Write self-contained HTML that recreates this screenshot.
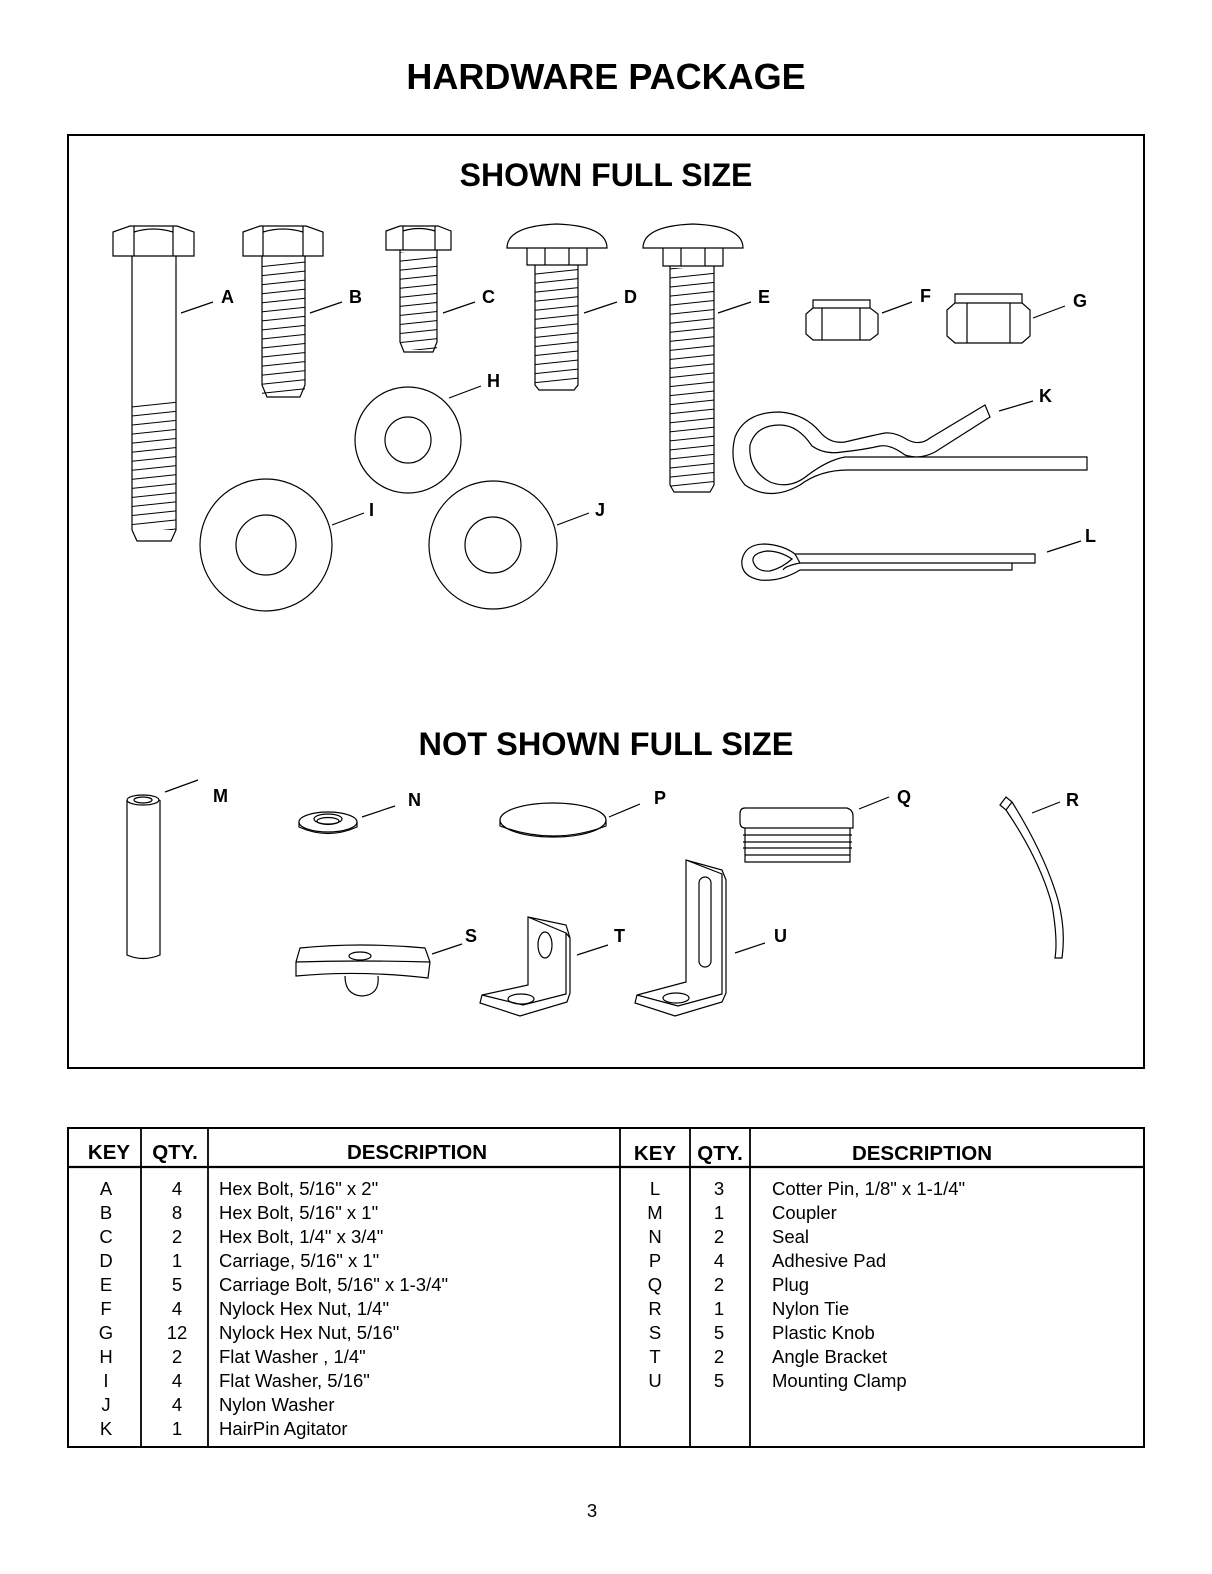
<!DOCTYPE html>
<html><head><meta charset="utf-8"><style>
body{margin:0;background:#fff}
svg{display:block}
.t{font-family:"Liberation Sans",Arial,sans-serif}
</style></head><body>
<svg width="1212" height="1574" viewBox="0 0 1212 1574" xmlns="http://www.w3.org/2000/svg" class="t">
<defs>
<pattern id="th" width="20" height="9" patternUnits="userSpaceOnUse" patternTransform="rotate(-6)">
<line x1="0" y1="4.5" x2="20" y2="4.5" stroke="#000" stroke-width="1"/>
</pattern>
</defs>
<g fill="none" stroke="#000" stroke-width="1.2">
<text x="606" y="89" text-anchor="middle" font-size="36" font-weight="bold" fill="#000" stroke="none">HARDWARE PACKAGE</text>
<rect x="68" y="135" width="1076" height="933" stroke-width="2"/>
<text x="606" y="186" text-anchor="middle" font-size="32" font-weight="bold" fill="#000" stroke="none">SHOWN FULL SIZE</text>
<text x="606" y="755" text-anchor="middle" font-size="32.5" font-weight="bold" fill="#000" stroke="none">NOT SHOWN FULL SIZE</text>

<!-- A -->
<path d="M113,232 L130,226 L177,226 L194,232 L194,256 L113,256 Z"/>
<path d="M134,226 L134,256 M173,226 L173,256 M134,232 Q153,226 173,232"/>
<path d="M132,256 L132,530 L137,541 L171,541 L176,530 L176,256"/>
<rect x="132" y="400" width="44" height="130" fill="url(#th)" stroke="none"/>
<!-- B -->
<path d="M243,232 L260,226 L306,226 L323,232 L323,256 L243,256 Z"/>
<path d="M263,226 L263,256 M303,226 L303,256 M263,232 Q283,226 303,232"/>
<path d="M262,256 L262,385 L267,397 L300,397 L305,385 L305,256"/>
<rect x="262" y="258" width="43" height="137" fill="url(#th)" stroke="none"/>
<!-- C -->
<path d="M386,231 L400,226 L438,226 L451,231 L451,250 L386,250 Z"/>
<path d="M403,226 L403,250 M435,226 L435,250 M403,231 Q419,226 435,231"/>
<path d="M400,250 L400,342 L404,352 L433,352 L437,342 L437,250"/>
<rect x="400" y="252" width="37" height="98" fill="url(#th)" stroke="none"/>
<!-- D -->
<path d="M507,248 Q507,226 557,224 Q607,226 607,248 Z"/>
<path d="M527,248 L527,265 L587,265 L587,248 M545,248 L545,265 M569,248 L569,265"/>
<path d="M535,265 L535,385 L539,390 L574,390 L578,385 L578,265"/>
<rect x="535" y="267" width="43" height="120" fill="url(#th)" stroke="none"/>
<!-- E -->
<path d="M643,248 Q643,226 693,224 Q743,226 743,248 Z"/>
<path d="M663,248 L663,266 L723,266 L723,248 M681,248 L681,266 M705,248 L705,266"/>
<path d="M670,266 L670,485 L674,492 L710,492 L714,485 L714,266"/>
<rect x="670" y="268" width="44" height="220" fill="url(#th)" stroke="none"/>
<!-- F nut -->
<path d="M813,300 L870,300 L870,308 L878,314 L878,334 L870,340 L813,340 L806,334 L806,314 L813,308 Z M813,308 L870,308 M822,308 L822,340 M860,308 L860,340"/>
<!-- G nut -->
<path d="M955,294 L1022,294 L1022,303 L1030,310 L1030,336 L1022,343 L955,343 L947,336 L947,310 L955,303 Z M955,303 L1022,303 M967,303 L967,343 M1010,303 L1010,343"/>
<!-- washers -->
<circle cx="408" cy="440" r="53"/><circle cx="408" cy="440" r="23"/>
<circle cx="266" cy="545" r="66"/><circle cx="266" cy="545" r="30"/>
<circle cx="493" cy="545" r="64"/><circle cx="493" cy="545" r="28"/>
<!-- K hairpin -->
<path d="M845,457 L1087,457 L1087,470 L848,470 Q820,470 800,485 Q770,502 745,485 Q728,465 735,437 Q745,412 780,412 Q805,414 820,432 Q830,444 845,442 Q870,436 885,433 Q895,432 908,440 Q920,446 930,438 L985,405 L990,417 L935,452 Q920,460 905,455 Q890,444 880,446 Q862,450 842,452 Q825,455 812,446 Q798,425 780,425 Q756,425 750,445 Q748,470 770,482 Q790,490 808,475 Q828,460 845,457 Z"/>
<!-- L cotter -->
<path d="M795,554 L1035,554 L1035,563 L800,563 Q785,566 783,570 M800,563 L1012,563 L1012,570 L800,570 Q780,582 760,580 Q740,576 742,560 Q745,544 765,544 Q783,545 795,554 Z"/>
<path d="M792,559 Q780,551 767,551 Q752,553 753,561 Q756,572 770,571 Q782,568 792,559 Z"/>
<!-- leader lines -->
<path d="M181,313 L213,302 M310,313 L342,302 M443,313 L475,302 M584,313 L617,302 M718,313 L751,302 M882,313 L912,302 M1033,318 L1065,306 M449,398 L481,386 M999,411 L1033,401 M332,525 L364,513 M557,525 L589,513 M1047,552 L1081,541"/>
<g fill="#000" stroke="none" font-size="18" font-weight="bold">
<text x="221" y="303">A</text><text x="349" y="303">B</text><text x="482" y="303">C</text><text x="624" y="303">D</text><text x="758" y="303">E</text><text x="920" y="302">F</text><text x="1073" y="307">G</text><text x="487" y="387">H</text><text x="1039" y="402">K</text><text x="369" y="516">I</text><text x="595" y="516">J</text><text x="1085" y="542">L</text>
<text x="213" y="802">M</text><text x="408" y="806">N</text><text x="654" y="804">P</text><text x="897" y="803">Q</text><text x="1066" y="806">R</text><text x="465" y="942">S</text><text x="614" y="942">T</text><text x="774" y="942">U</text>
</g>
<!-- M -->
<ellipse cx="143" cy="800" rx="16" ry="5"/><ellipse cx="143" cy="800" rx="9" ry="3"/>
<path d="M127,800 L127,955 Q143,962 160,955 L160,800"/>
<path d="M165,792 L198,780 M362,817 L395,806 M609,817 L640,804 M859,809 L889,797 M1032,813 L1060,802 M432,954 L462,944 M577,955 L608,945 M735,953 L765,943"/>
<!-- N -->
<ellipse cx="328" cy="822" rx="29" ry="10"/><path d="M299,822 L299,827 Q328,840 357,827 L357,822"/>
<ellipse cx="328" cy="819" rx="14" ry="5"/><ellipse cx="328" cy="821" rx="11" ry="3.5"/>
<!-- P -->
<ellipse cx="553" cy="820" rx="53" ry="17"/><path d="M500,820 L500,826 Q553,846 606,826 L606,820"/>
<!-- Q -->
<path d="M745,808 L847,808 Q853,810 853,816 L853,828 L745,828 Q740,828 740,822 L740,814 Q740,808 745,808 Z"/>
<path d="M745,828 L745,862 L850,862 L850,828 M743,835 L852,835 M743,842 L852,842 M743,848 L852,848 M745,855 L850,855"/>
<!-- R -->
<path d="M1000,805 L1006,797 L1012,802 L1006,810 Z M1006,810 Q1040,860 1052,905 Q1058,940 1055,958 L1062,958 Q1066,930 1058,900 Q1045,855 1012,802"/>
<!-- S knob -->
<path d="M300,948 Q360,942 425,948 L430,962 L428,978 Q360,970 296,976 L296,962 Z M296,962 Q360,960 430,962"/>
<ellipse cx="360" cy="956" rx="11" ry="4"/>
<path d="M345,976 Q345,995 362,996 Q380,995 378,976"/>
<!-- T bracket -->
<path d="M528,917 L528,985 L482,995 L480,1003 L520,1016 L567,1002 L570,993 L570,938 L566,925 Z M528,917 L566,933 L566,994 L523,1005 L482,995 M566,933 L570,938"/>
<ellipse cx="545" cy="945" rx="7" ry="13"/><ellipse cx="521" cy="999" rx="13" ry="5"/>
<!-- U bracket -->
<path d="M686,860 L686,982 L637,995 L635,1003 L675,1016 L722,1002 L726,993 L726,880 L722,870 Z M686,860 L722,874 L722,994 L678,1006 L637,995"/>
<rect x="699" y="877" width="12" height="90" rx="6"/><ellipse cx="676" cy="998" rx="13" ry="5"/>

<!-- table -->
<rect x="68" y="1128" width="1076" height="319" stroke-width="2"/>
<path d="M68,1167 L1144,1167" stroke-width="2.2"/>
<path d="M141,1128 V1447 M208,1128 V1447 M620,1128 V1447 M690,1128 V1447 M750,1128 V1447" stroke-width="1.8"/>
<g fill="#000" stroke="none" font-size="20.5" font-weight="bold" text-anchor="middle">
<text x="109" y="1159">KEY</text><text x="175" y="1159">QTY.</text><text x="417" y="1159">DESCRIPTION</text>
<text x="655" y="1160">KEY</text><text x="720" y="1160">QTY.</text><text x="922" y="1160">DESCRIPTION</text>
</g>
<g fill="#000" stroke="none" font-size="18.5">
<g text-anchor="middle">
<text x="106" y="1195">A</text><text x="106" y="1219">B</text><text x="106" y="1243">C</text><text x="106" y="1267">D</text><text x="106" y="1291">E</text><text x="106" y="1315">F</text><text x="106" y="1339">G</text><text x="106" y="1363">H</text><text x="106" y="1387">I</text><text x="106" y="1411">J</text><text x="106" y="1435">K</text>
<text x="177" y="1195">4</text><text x="177" y="1219">8</text><text x="177" y="1243">2</text><text x="177" y="1267">1</text><text x="177" y="1291">5</text><text x="177" y="1315">4</text><text x="177" y="1339">12</text><text x="177" y="1363">2</text><text x="177" y="1387">4</text><text x="177" y="1411">4</text><text x="177" y="1435">1</text>
<text x="655" y="1195">L</text><text x="655" y="1219">M</text><text x="655" y="1243">N</text><text x="655" y="1267">P</text><text x="655" y="1291">Q</text><text x="655" y="1315">R</text><text x="655" y="1339">S</text><text x="655" y="1363">T</text><text x="655" y="1387">U</text>
<text x="719" y="1195">3</text><text x="719" y="1219">1</text><text x="719" y="1243">2</text><text x="719" y="1267">4</text><text x="719" y="1291">2</text><text x="719" y="1315">1</text><text x="719" y="1339">5</text><text x="719" y="1363">2</text><text x="719" y="1387">5</text>
</g>
<text x="219" y="1195">Hex Bolt, 5/16" x 2"</text><text x="219" y="1219">Hex Bolt, 5/16" x 1"</text><text x="219" y="1243">Hex Bolt, 1/4" x 3/4"</text><text x="219" y="1267">Carriage, 5/16" x 1"</text><text x="219" y="1291">Carriage Bolt, 5/16" x 1-3/4"</text><text x="219" y="1315">Nylock Hex Nut, 1/4"</text><text x="219" y="1339">Nylock Hex Nut, 5/16"</text><text x="219" y="1363">Flat Washer , 1/4"</text><text x="219" y="1387">Flat Washer, 5/16"</text><text x="219" y="1411">Nylon Washer</text><text x="219" y="1435">HairPin Agitator</text>
<text x="772" y="1195">Cotter Pin, 1/8" x 1-1/4"</text><text x="772" y="1219">Coupler</text><text x="772" y="1243">Seal</text><text x="772" y="1267">Adhesive Pad</text><text x="772" y="1291">Plug</text><text x="772" y="1315">Nylon Tie</text><text x="772" y="1339">Plastic Knob</text><text x="772" y="1363">Angle Bracket</text><text x="772" y="1387">Mounting Clamp</text>
<text x="592" y="1517" text-anchor="middle">3</text>
</g>
</g>
</svg>
</body></html>
